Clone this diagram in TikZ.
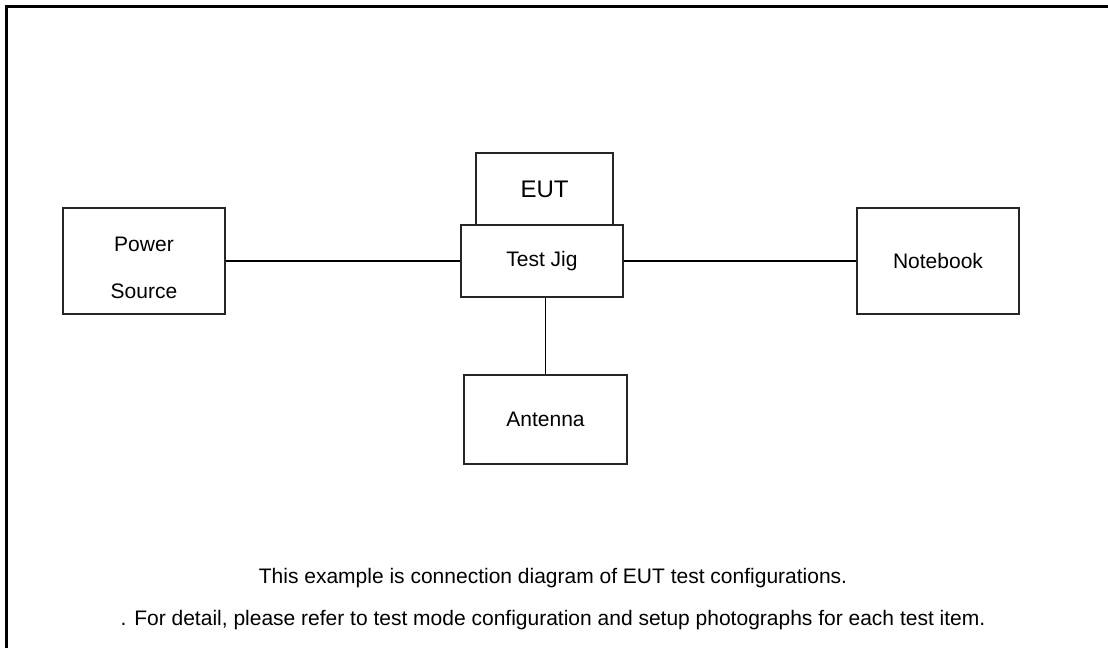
\documentclass[tikz,border=0pt]{standalone}
\usepackage{fontspec}
\setmainfont{Liberation Sans}
\begin{document}
\begin{tikzpicture}[x=1pt,y=-1pt,
  box/.style={draw=black!85, line width=1.1pt, inner sep=0pt, font=\fontsize{21}{25}\selectfont},
  wire/.style={draw=black, line width=1.6pt},
  frame/.style={draw=black, line width=2.6pt},
  txt/.style={inner sep=0pt, font=\fontsize{21}{25}\selectfont}]
\useasboundingbox (0,0) rectangle (1108,648);
\draw[frame] (6.3,648) -- (6.3,6.3) -- (1108,6.3);
\node[box, minimum width=137pt, minimum height=72pt, font=\fontsize{24}{28}\selectfont] (eut) at (544.5,189) {EUT};
\node[box, fill=white, minimum width=162pt, minimum height=72pt] (jig) at (542,261) {Test Jig};
\node[box, minimum width=162pt, minimum height=106pt] (ps) at (144,261) {};
\node[txt, align=center] (pstxt) at ([yshift=-6.5pt]ps.center) {Power\\[22pt]Source};
\node[box, minimum width=162pt, minimum height=106pt] (nb) at (938,261) {Notebook};
\node[box, minimum width=163pt, minimum height=89pt] (ant) at (545.5,419.5) {Antenna};
\draw[wire] (ps.east) -- (jig.west);
\draw[wire] (jig.east) -- (nb.west);
\draw[wire] (ant.north |- jig.south) -- (ant.north);
\node[txt] (cap1) at (553,578) {This example is connection diagram of EUT test configurations.};
\node[txt] (cap2) at (553,620) {. For detail, please refer to test mode configuration and setup photographs for each test item.};
\end{tikzpicture}
\end{document}
